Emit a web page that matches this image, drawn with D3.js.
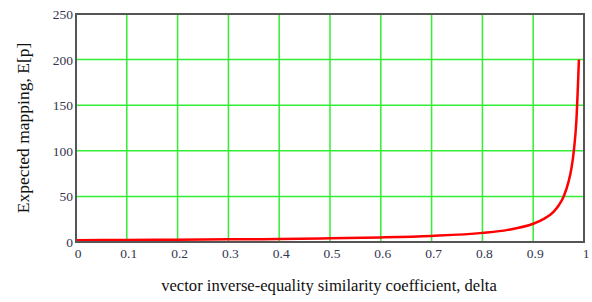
<!DOCTYPE html>
<html>
<head>
<meta charset="utf-8">
<script src="https://cdn.jsdelivr.net/npm/d3@7"></script>
<style>
  body { margin: 0; background: #fff; }
  text { font-family: "Liberation Serif", "Times New Roman", serif; }
</style>
</head>
<body>
<div id="chart"></div>
<script>
// values
const delta = [0, 0.1, 0.2, 0.3, 0.4, 0.5, 0.6, 0.7, 0.8, 0.85, 0.9, 0.92, 0.94, 0.95, 0.96, 0.97, 0.975, 0.98, 0.985, 0.99];
const expected = [2, 2.2, 2.5, 2.9, 3.3, 4, 5, 6.7, 10, 13.3, 20, 25, 33, 40, 50, 67, 80, 100, 133, 200];
const xTicks = [0, 0.1, 0.2, 0.3, 0.4, 0.5, 0.6, 0.7, 0.8, 0.9, 1];
const yTicks = [0, 50, 100, 150, 200, 250];

const width = 592, height = 302;
const plot = {left: 76, right: 584, top: 14, bottom: 242};

const svg = d3.select("#chart").append("svg")
    .attr("width", width)
    .attr("height", height);

const x = d3.scaleLinear().domain([0, 1]).range([plot.left, plot.right]);
const y = d3.scaleLinear().domain([0, 250]).range([plot.bottom, plot.top]);

// grid
svg.append("g").selectAll("line")
    .data(xTicks.slice(1, -1))
    .join("line")
    .attr("x1", d => x(d)).attr("x2", d => x(d))
    .attr("y1", plot.top).attr("y2", plot.bottom)
    .attr("stroke", "#33ee33").attr("stroke-width", 1.5);
svg.append("g").selectAll("line")
    .data(yTicks.slice(1, -1))
    .join("line")
    .attr("y1", d => y(d)).attr("y2", d => y(d))
    .attr("x1", plot.left).attr("x2", plot.right)
    .attr("stroke", "#33ee33").attr("stroke-width", 1.5);

// curve
const line = d3.line()
    .x((d, i) => x(d))
    .y((d, i) => y(expected[i]))
    .curve(d3.curveMonotoneX);
svg.append("path")
    .datum(delta)
    .attr("d", line)
    .attr("fill", "none")
    .attr("stroke", "#ff0000")
    .attr("stroke-width", 2.5);

// frame
svg.append("rect")
    .attr("x", plot.left).attr("y", plot.top)
    .attr("width", plot.right - plot.left)
    .attr("height", plot.bottom - plot.top)
    .attr("fill", "none")
    .attr("stroke", "#555")
    .attr("stroke-width", 2);

// tick labels
const labelColor = "#33364d";
svg.append("g").selectAll("text")
    .data(xTicks)
    .join("text")
    .attr("x", d => x(d) + 2)
    .attr("y", plot.bottom + 16)
    .attr("text-anchor", "middle")
    .attr("font-size", 13.5)
    .attr("fill", labelColor)
    .text(d => d3.format("")(d));
svg.append("g").selectAll("text")
    .data(yTicks)
    .join("text")
    .attr("x", plot.left - 3)
    .attr("y", d => y(d) + 5)
    .attr("text-anchor", "end")
    .attr("font-size", 13.5)
    .attr("fill", labelColor)
    .text(d => d);

// axis titles
svg.append("text")
    .attr("x", 329).attr("y", 291)
    .attr("text-anchor", "middle")
    .attr("font-size", 16.6)
    .attr("fill", "#111")
    .text("vector inverse-equality similarity coefficient, delta");
svg.append("text")
    .attr("transform", `translate(29, ${(plot.top + plot.bottom) / 2}) rotate(-90)`)
    .attr("text-anchor", "middle")
    .attr("font-size", 17.5)
    .attr("fill", "#111")
    .text("Expected mapping, E[p]");
</script>
</body>
</html>
